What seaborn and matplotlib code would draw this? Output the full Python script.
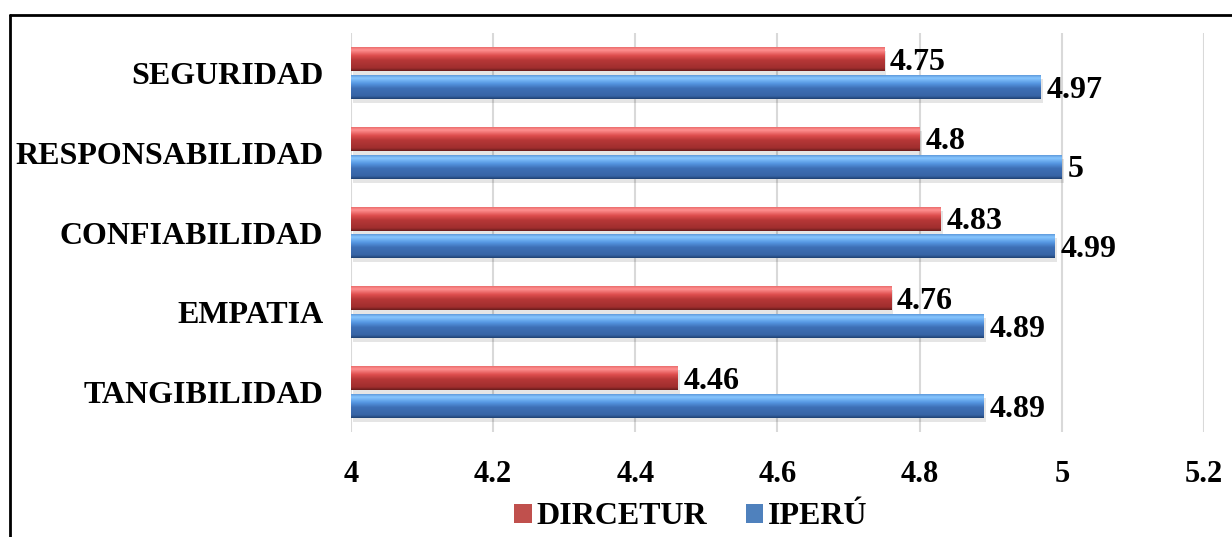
import numpy as np
import pandas as pd
import matplotlib
matplotlib.use("Agg")
import matplotlib.pyplot as plt
import seaborn as sns
from matplotlib.patches import Patch, Rectangle
from matplotlib.lines import Line2D

categories = ["SEGURIDAD", "RESPONSABILIDAD", "CONFIABILIDAD", "EMPATIA", "TANGIBILIDAD"]
dircetur = [4.75, 4.80, 4.83, 4.76, 4.46]
iperu = [4.97, 5.00, 4.99, 4.89, 4.89]
dircetur_labels = ["4.75", "4.8", "4.83", "4.76", "4.46"]
iperu_labels = ["4.97", "5", "4.99", "4.89", "4.89"]
series = ["DIRCETUR", "IPERÚ"]
xticks = [4, 4.2, 4.4, 4.6, 4.8, 5, 5.2]
xtick_labels = ["4", "4.2", "4.4", "4.6", "4.8", "5", "5.2"]

df = pd.DataFrame({
    "cat": categories * 2,
    "serie": [series[0]] * len(categories) + [series[1]] * len(categories),
    "val": dircetur + iperu,
})

sns.set_theme(style="white")
plt.rcParams["font.family"] = ["Liberation Serif", "DejaVu Serif"]
plt.rcParams["font.weight"] = "bold"
plt.rcParams["text.color"] = "black"
plt.rcParams["xtick.color"] = "black"
plt.rcParams["ytick.color"] = "black"

red = "#C0504D"
blue = "#4F81BD"

fig = plt.figure(figsize=(12.32, 5.37), dpi=100)
ax = fig.add_axes([351 / 1232, 1 - 432 / 537, 853 / 1232, 399 / 537])

sns.barplot(data=df, y="cat", x="val", hue="serie", orient="h",
            palette=[red, blue], width=0.7, ax=ax, legend=False,
            order=categories, hue_order=series)

XMIN = 4.0
ax.set_xlim(XMIN, 5.2)
ax.set_ylim(4.5, -0.5)

red_stops = [(0.0, (235, 110, 110)), (0.12, (255, 145, 145)), (0.35, (222, 78, 78)),
             (0.55, (182, 55, 55)), (0.88, (160, 46, 46)), (1.0, (105, 28, 28))]
blue_stops = [(0.0, (95, 155, 220)), (0.12, (135, 198, 255)), (0.35, (85, 150, 225)),
              (0.55, (62, 112, 182)), (0.88, (55, 100, 165)), (1.0, (32, 66, 115))]


def grad(stops, n=64):
    t = np.linspace(0, 1, n)
    pos = [s[0] for s in stops]
    arr = np.zeros((n, 1, 3))
    for c in range(3):
        arr[:, 0, c] = np.interp(t, pos, [s[1][c] for s in stops]) / 255.0
    return arr


grads = {0: grad(red_stops), 1: grad(blue_stops)}
texts = [dircetur_labels, iperu_labels]

patches = list(ax.patches)
n = len(categories)
for i, p in enumerate(patches):
    s = i // n
    yc = p.get_y() + p.get_height() / 2
    h = 0.30
    x1 = p.get_x() + p.get_width()
    x0 = XMIN
    p.set_x(x0)
    p.set_width(x1 - x0)
    p.set_y(yc - h / 2)
    p.set_height(h)
    # soft shadow
    ax.add_patch(Rectangle((x0 + 0.003, yc - h / 2 + 0.05), x1 - x0, h,
                           facecolor="#000000", alpha=0.10, lw=0, zorder=1.5))
    p.set_zorder(2)
    p.set_edgecolor("none")
    im = ax.imshow(grads[s], extent=(x0, x1, yc + h / 2, yc - h / 2),
                   origin="upper", aspect="auto", zorder=3, interpolation="bilinear")
    im.set_clip_path(p)
    j = i % n
    ax.text(x1 + 0.008, yc + 0.04, texts[s][j], ha="left", va="center",
            fontsize=23, fontweight="bold", color="black", zorder=5)

ax.set_xlim(XMIN, 5.2)
ax.set_ylim(4.5, -0.5)

ax.set_xticks(xticks)
ax.set_xticklabels(xtick_labels, fontsize=22, fontweight="bold", color="black")
ax.set_yticks(range(n))
ax.set_yticklabels(categories, fontsize=23, fontweight="bold", color="black")
ax.tick_params(axis="x", pad=20, length=0)
ax.tick_params(axis="y", pad=20, length=0)
ax.set_xlabel("")
ax.set_ylabel("")
ax.grid(axis="x", color="#D9D9D9", lw=1.5)
ax.set_axisbelow(True)
for sp in ax.spines.values():
    sp.set_visible(False)

handles = [Patch(facecolor=red, edgecolor="none"), Patch(facecolor=blue, edgecolor="none")]
leg = fig.legend(handles, series, loc="center", bbox_to_anchor=(691 / 1232, 1 - 517 / 537),
                 ncol=2, frameon=False, prop={"size": 23, "weight": "bold"},
                 handlelength=0.55, handleheight=0.55, handletextpad=0.15, columnspacing=1.2)
for t in leg.get_texts():
    t.set_color("black")

# outer frame (top and left)
fig.add_artist(Line2D([10 / 1232, 10 / 1232], [0, 1 - 15 / 537], color="black", lw=2,
                      transform=fig.transFigure))
fig.add_artist(Line2D([10 / 1232, 1], [1 - 15 / 537, 1 - 15 / 537], color="black", lw=2,
                      transform=fig.transFigure))

fig.savefig("out.png", dpi=100)
